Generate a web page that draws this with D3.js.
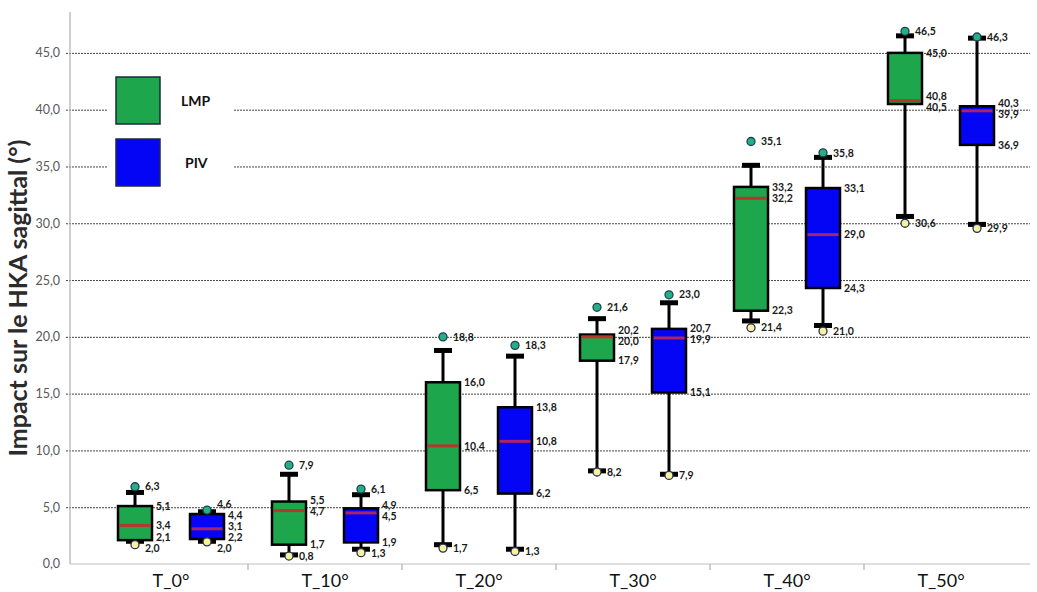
<!DOCTYPE html>
<html><head><meta charset="utf-8">
<script src="https://cdn.jsdelivr.net/npm/d3@7"></script>
<style>html,body{margin:0;padding:0;background:#fff;}svg{display:block;}</style>
</head><body>
<svg id="chart" width="1037" height="592"></svg>
<script>
const categories = ["T_0°","T_10°","T_20°","T_30°","T_40°","T_50°"];
const seriesNames = ["LMP","PIV"];
const yTicks = [0,5,10,15,20,25,30,35,40,45];

const lmpMax    = [6.3, 7.9, 18.8, 21.6, 35.1, 46.5];
const lmpQ3     = [5.1, 5.5, 16.0, 20.2, 33.2, 45.0];
const lmpMedian = [3.4, 4.7, 10.4, 20.0, 32.2, 40.8];
const lmpQ1     = [2.1, 1.7, 6.5, 17.9, 22.3, 40.5];
const lmpMin    = [2.0, 0.8, 1.7, 8.2, 21.4, 30.6];
const lmpDotHigh= [6.8, 8.7, 20.0, 22.6, 37.2, 46.9];
const lmpDotLow = [1.7, 0.7, 1.4, 8.1, 20.8, 30.0];

const pivMax    = [4.6, 6.1, 18.3, 23.0, 35.8, 46.3];
const pivQ3     = [4.4, 4.9, 13.8, 20.7, 33.1, 40.3];
const pivMedian = [3.1, 4.5, 10.8, 19.9, 29.0, 39.9];
const pivQ1     = [2.2, 1.9, 6.2, 15.1, 24.3, 36.9];
const pivMin    = [2.0, 1.3, 1.3, 7.9, 21.0, 29.9];
const pivDotHigh= [4.75, 6.6, 19.25, 23.7, 36.2, 46.4];
const pivDotLow = [1.95, 1.0, 1.1, 7.8, 20.5, 29.55];

const seriesData = {
  LMP: {max:lmpMax,q3:lmpQ3,med:lmpMedian,q1:lmpQ1,min:lmpMin,hi:lmpDotHigh,lo:lmpDotLow},
  PIV: {max:pivMax,q3:pivQ3,med:pivMedian,q1:pivQ1,min:pivMin,hi:pivDotHigh,lo:pivDotLow}
};
const fills = {LMP:"#1ea64c", PIV:"#0505f5"};
const medColors = {LMP:"#b8352a", PIV:"#a82466"};

const svg = d3.select("#chart");
const plotLeft = 70, plotRight = 1030;
const y = d3.scaleLinear().domain([0, 48.6]).range([564, 12]);
const x = d3.scaleBand().domain(categories).range([94, 1018]);
const off = d3.scaleOrdinal().domain(seriesNames).range([-36, 36]);
const fmt = v => d3.format(".1f")(v).replace(".", ",");

// grid + y axis
const yAxis = d3.axisLeft(y).tickValues(yTicks.filter(t=>t>0)).tickFormat(fmt)
  .tickSizeOuter(0).tickPadding(10);
const gy = svg.append("g").attr("transform", `translate(${plotLeft},0)`).call(yAxis);
gy.select(".domain").remove();
gy.selectAll(".tick line").attr("x1", -4).attr("x2", plotRight - plotLeft)
  .attr("stroke","#444").attr("stroke-dasharray","2,1").attr("stroke-width",1);
gy.selectAll(".tick text").attr("x", -10).attr("font-family","Lato, sans-serif").attr("font-size",12.5).attr("fill","#595959");
// zero label
svg.append("text").attr("x", plotLeft - 10).attr("y", y(0)).attr("dy","0.32em")
  .attr("text-anchor","end").attr("font-family","Lato, sans-serif").attr("font-size",12.5)
  .attr("fill","#595959").text(fmt(0));
// y axis line
svg.append("line").attr("x1", plotLeft).attr("x2", plotLeft).attr("y1", y(0)).attr("y2", y(48.6))
  .attr("stroke","#b0b0b0").attr("stroke-width",1.2);
// x axis line
svg.append("line").attr("x1", plotLeft).attr("x2", plotRight).attr("y1", y(0)).attr("y2", y(0))
  .attr("stroke","#c0c0c0").attr("stroke-width",1.2);
// x ticks at band boundaries
svg.selectAll(".xtick").data(categories.slice(1)).join("line")
  .attr("x1", d => x(d)).attr("x2", d => x(d)).attr("y1", y(0)).attr("y2", y(0) + 6)
  .attr("stroke","#b0b0b0").attr("stroke-width",1.2);
// x labels
svg.selectAll(".xlab").data(categories).join("text")
  .attr("x", d => x(d) + x.bandwidth()/2).attr("y", 587)
  .attr("text-anchor","middle").attr("font-family","Lato, sans-serif").attr("font-size",18)
  .attr("fill","#111").text(d => d);

// y title
svg.append("text").attr("transform","translate(27,298) rotate(-90)")
  .attr("text-anchor","middle").attr("font-family","Lato, sans-serif").attr("font-weight","bold")
  .attr("font-size",25).attr("fill","#2b2b2b").text("Impact sur le HKA sagittal (°)");

// legend
svg.append("rect").attr("x",107).attr("y",62).attr("width",126).attr("height",136).attr("fill","#fff");
const leg = svg.selectAll(".leg").data(seriesNames).join("g")
  .attr("transform",(d,i)=>`translate(116,${77 + i*62})`);
leg.append("rect").attr("width",44).attr("height",47).attr("fill",d=>fills[d])
  .attr("stroke","#1b2a3a").attr("stroke-width",1.5);
leg.append("text").attr("x",(d,i)=> i===0 ? 65 : 69).attr("y",24).attr("dy","0.35em")
  .attr("font-family","Lato, sans-serif").attr("font-weight","bold").attr("font-size",14)
  .attr("fill","#111").text(d=>d);

// boxes
const boxW = 34, capW = 18, capH = 5;
const boxes = [];
seriesNames.forEach(s => categories.forEach((c,i) => {
  const d = seriesData[s];
  boxes.push({s, c, cx: x(c) + x.bandwidth()/2 + off(s),
    max:d.max[i], q3:d.q3[i], med:d.med[i], q1:d.q1[i], min:d.min[i], hi:d.hi[i], lo:d.lo[i]});
}));

const g = svg.append("g");
const bg = g.selectAll(".box").data(boxes).join("g");
bg.append("line").attr("x1",d=>d.cx).attr("x2",d=>d.cx).attr("y1",d=>y(d.max)).attr("y2",d=>y(d.q3))
  .attr("stroke","#000").attr("stroke-width",3);
bg.append("line").attr("x1",d=>d.cx).attr("x2",d=>d.cx).attr("y1",d=>y(d.q1)).attr("y2",d=>y(d.min))
  .attr("stroke","#000").attr("stroke-width",3);
bg.append("rect").attr("x",d=>d.cx-capW/2).attr("y",d=>y(d.max)-capH/2).attr("width",capW).attr("height",capH).attr("fill","#000");
bg.append("rect").attr("x",d=>d.cx-capW/2).attr("y",d=>y(d.min)-capH/2).attr("width",capW).attr("height",capH).attr("fill","#000");
bg.append("rect").attr("x",d=>d.cx-boxW/2).attr("y",d=>y(d.q3)).attr("width",boxW)
  .attr("height",d=>y(d.q1)-y(d.q3)).attr("fill",d=>fills[d.s]).attr("stroke","#000").attr("stroke-width",2.5);
bg.append("line").attr("x1",d=>d.cx-boxW/2+1.5).attr("x2",d=>d.cx+boxW/2-1.5)
  .attr("y1",d=>y(d.med)).attr("y2",d=>y(d.med)).attr("stroke",d=>medColors[d.s]).attr("stroke-width",3);
bg.append("circle").attr("cx",d=>d.cx).attr("cy",d=>y(d.hi)).attr("r",4)
  .attr("fill","#25b07e").attr("stroke","#1d3f5c").attr("stroke-width",1.3);
bg.append("circle").attr("cx",d=>d.cx).attr("cy",d=>y(d.lo)).attr("r",4)
  .attr("fill","#f6f2a2").attr("stroke","#2a3050").attr("stroke-width",1.3);

// value labels with collision avoidance
const gap = 11;
boxes.forEach(b => {
  let labs = [
    {v:b.max, y:y(b.hi), x:b.cx+10},
    {v:b.q3, y:y(b.q3), x:b.cx+boxW/2+4},
    {v:b.med, y:y(b.med), x:b.cx+boxW/2+4},
    {v:b.q1, y:y(b.q1), x:b.cx+boxW/2+4},
    {v:b.min, y:y(b.lo), x:b.cx+10}
  ];
  labs.sort((a,c)=>a.y-c.y);
  labs.forEach(l => l.y0 = l.y);
  let clusters = labs.map(l => ({items:[l]}));
  const place = cl => { const n = cl.items.length; const mean = d3.mean(cl.items, l=>l.y0);
    cl.top = mean - (n-1)*gap/2; };
  clusters.forEach(place);
  let changed = true;
  while (changed) {
    changed = false;
    for (let k=0;k<clusters.length-1;k++){
      const a = clusters[k], c = clusters[k+1];
      const aBottom = a.top + (a.items.length-1)*gap;
      if (c.top - aBottom < gap) {
        a.items = a.items.concat(c.items); place(a); clusters.splice(k+1,1); changed = true; break;
      }
    }
  }
  clusters.forEach(cl => cl.items.forEach((l,j)=> l.y = cl.top + j*gap));
  g.selectAll(null).data(labs).join("text").attr("x",l=>l.x).attr("y",l=>l.y).attr("dy","0.35em")
    .attr("font-family","Lato, sans-serif").attr("font-weight","bold").attr("font-size",10.5)
    .attr("fill","#1a1a1a").text(l=>fmt(l.v));
});
</script>
</body></html>
